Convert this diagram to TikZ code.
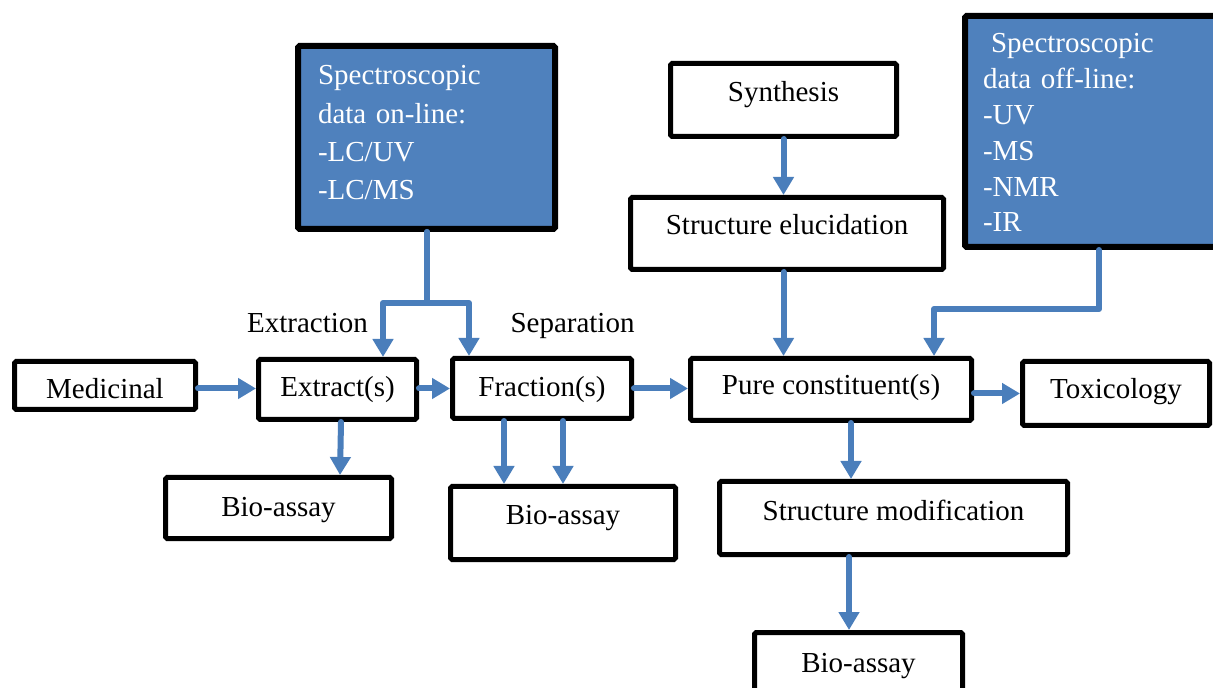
\documentclass[tikz,border=0pt]{standalone}
\usepackage{fontspec}
\setmainfont{Liberation Serif}
\usetikzlibrary{arrows.meta}
\definecolor{boxblue}{HTML}{4F81BD}
\definecolor{arrblue}{HTML}{4A7EBB}
\tikzset{
  txt/.style={font=\fontsize{14.5}{18}\selectfont, text height=10pt, text depth=3pt, inner sep=0pt},
  plainbox/.style={draw=black, line width=2.5pt, fill=white, rounded corners=0.8pt,
    font=\fontsize{14.5}{18}\selectfont, text height=10pt, text depth=3pt, inner sep=0pt},
  bluebox/.style={draw=black, line width=3pt, fill=boxblue, text=white, rounded corners=0.8pt,
    align=left, inner ysep=0pt},
  flow/.style={draw=arrblue, line width=3pt, line cap=round, line join=round,
    -{Triangle[width=10pt,length=9pt]}},
}
\begin{document}
\begin{tikzpicture}[x=0.5pt,y=-0.5pt]
\clip (0,0) rectangle (1213,688);
\fill[white] (0,0) rectangle (1213,688);

% blue info boxes
\node[bluebox, inner xsep=10pt, text width=108.5pt, minimum height=91.5pt,
      font=\fontsize{14.5}{19.15}\selectfont, text height=10pt, text depth=62.5pt]
  (online) at (426.5,137.5) {Spectroscopic\\data on-line:\\-LC/UV\\-LC/MS};
\node[bluebox, inner xsep=9pt, text width=114.5pt, minimum height=115.5pt,
      font=\fontsize{14.5}{17.9}\selectfont, text height=10pt, text depth=88.5pt]
  (offline) at (1097.5,131.5) {\hspace*{4pt}Spectroscopic\\data off-line:\\-UV\\-MS\\-NMR\\-IR};

% plain boxes
\node[plainbox, minimum width=113pt, minimum height=36.5pt] (synthesis) at (783.5,100) {\raisebox{2.5pt}{Synthesis}};
\node[plainbox, minimum width=156.5pt, minimum height=36pt] (se) at (787,233.5) {\raisebox{2.75pt}{Structure elucidation}};
\node[plainbox, minimum width=90.5pt, minimum height=24pt] (medicinal) at (105,385.5) {\raisebox{-3.25pt}{Medicinal}};
\node[plainbox, minimum width=79pt, minimum height=30pt] (extract) at (337.5,389.5) {\raisebox{-0.25pt}{Extract(s)}};
\node[plainbox, minimum width=89.5pt, minimum height=30pt] (fraction) at (542,388.5) {\raisebox{-0.75pt}{Fraction(s)}};
\node[plainbox, minimum width=140.5pt, minimum height=31pt] (pure) at (831,389.5) {\raisebox{0.75pt}{Pure constituent(s)}};
\node[plainbox, minimum width=93.5pt, minimum height=32pt] (tox) at (1116,393.5) {\raisebox{0.75pt}{Toxicology}};
\node[plainbox, minimum width=113pt, minimum height=30.5pt] (bio1) at (278.5,508) {\raisebox{-1pt}{Bio-assay}};
\node[plainbox, minimum width=112.5pt, minimum height=36.5pt] (bio2) at (563,523) {\raisebox{2.5pt}{Bio-assay}};
\node[plainbox, minimum width=174pt, minimum height=36.5pt] (sm) at (893.5,518) {\raisebox{2.5pt}{Structure modification}};
\node[plainbox, minimum width=104pt, minimum height=36.5pt] (bio3) at (858.5,669) {\raisebox{2pt}{Bio-assay}};

% labels
\node[txt] (lextraction) at (307.5,326) {Extraction};
\node[txt] (lseparation) at (572.5,326) {Separation};

% helper coordinates
\coordinate (jn) at (427,303);
\coordinate (bl) at (383,303);
\coordinate (br) at (469,303);
\coordinate (oa) at (1099,309);
\coordinate (ob) at (934,309);
\coordinate (e1) at (341,0);
\coordinate (e2) at (340,0);
\coordinate (f1) at (504,0);
\coordinate (f2) at (563,0);
\coordinate (p1) at (851,0);
\coordinate (s1) at (849,0);

% connectors
\draw[flow] (online.south -| jn) -- (jn) -| (extract.north -| bl);
\draw[flow] (online.south -| jn) -- (jn) -| (fraction.north -| br);
\draw[flow] (offline.south -| oa) -- (oa) -| (pure.north -| ob);
\draw[flow] (medicinal.east |- fraction.west) -- (extract.west |- fraction.west);
\draw[flow] (extract.east |- fraction.west) -- (fraction.west);
\draw[flow] (fraction.east) -- (pure.west |- fraction.east);
\draw[flow] (pure.east |- tox.west) -- (tox.west);
\draw[flow] (synthesis.south) -- (synthesis.south |- se.north);
\draw[flow] (synthesis.south |- se.south) -- (synthesis.south |- pure.north);
\draw[flow] (extract.south -| e1) -- (bio1.north -| e2);
\draw[flow] (fraction.south -| f1) -- (bio2.north -| f1);
\draw[flow] (fraction.south -| f2) -- (bio2.north -| f2);
\draw[flow] (pure.south -| p1) -- (sm.north -| p1);
\draw[flow] (sm.south -| s1) -- (bio3.north -| s1);
\end{tikzpicture}
\end{document}
